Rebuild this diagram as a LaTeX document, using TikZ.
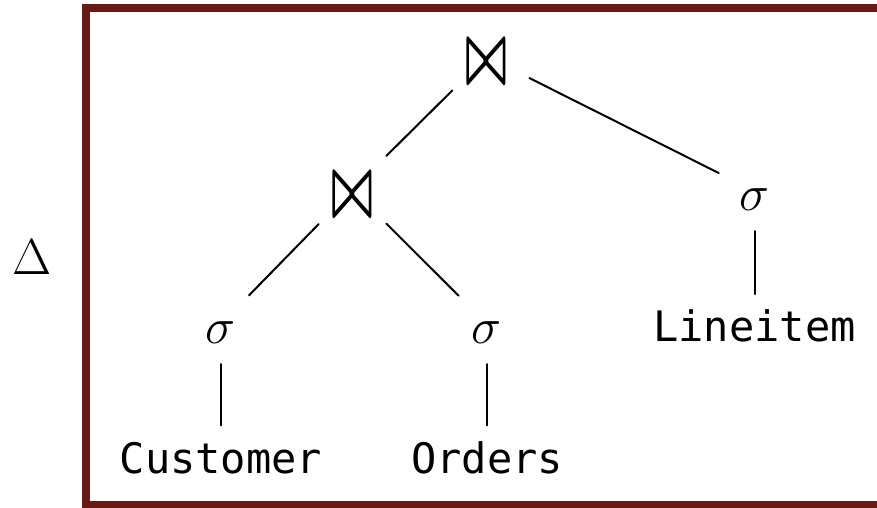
\RequirePackage{fix-cm}
\documentclass[tikz,border=0pt]{standalone}
\usepackage{graphicx}
\usepackage{fontspec}
\setmonofont{DejaVu Sans Mono}
\definecolor{framered}{RGB}{106,26,22}
\newcommand{\joinsym}{\resizebox*{31pt}{30pt}{\boldmath$\bowtie$}}
\begin{document}
\begin{tikzpicture}[x=0.75pt,y=-0.75pt,
  edge/.style={line width=1.5pt, line cap=round},
  j2j/.style={edge, shorten <=36pt, shorten >=36pt},
  j2s/.style={edge, shorten <=36pt, shorten >=30pt},
  s2r/.style={edge, shorten <=30pt, shorten >=13pt},
  relname/.style={font=\fontsize{31.5}{36}\selectfont\ttfamily, inner sep=0pt, anchor=base,
    text height=22.5pt, text depth=0pt},
  selop/.style={font=\fontsize{38}{44}\selectfont, inner sep=0pt, anchor=base,
    text height=28.5pt, text depth=0pt},
  joinop/.style={inner sep=0pt, anchor=base, text height=39pt, text depth=0pt}]
\useasboundingbox (0,0) rectangle (877,507);
\clip (0,0) rectangle (877,507);

% frame around the plan
\draw[line width=6pt, framered] (86,7.5) rectangle (886,505);

% delta marker
\node[selop, text height=27pt] (delta) at (32.5,274) {$\Delta$};

% operators
\node[joinop] (jtop) at (486.5,82.5) {\joinsym};
\node[joinop] (jmid) at (352.3,215.7) {\joinsym};
\node[selop] (scust) at (221,343) {$\sigma$};
\node[selop] (sord) at (487,343) {$\sigma$};
\node[selop] (sline) at (754.5,210) {$\sigma$};

% base relations
\node[relname] (cust) at (221,473) {Customer};
\node[relname] (ord) at (487,473) {Orders};
\node[relname] (line) at (754.5,341.7) {Lineitem};

% edges
\draw[j2j] (jtop.center) -- (jmid.center);
\draw[j2s] (jtop.center) -- (sline.center);
\draw[j2s] (jmid.center) -- (scust.center);
\draw[j2s] (jmid.center) -- (sord.center);
\draw[s2r] (scust.center) -- (cust.north);
\draw[s2r] (sord.center) -- (ord.north);
\draw[s2r] (sline.center) -- (line.north);
\end{tikzpicture}
\end{document}
